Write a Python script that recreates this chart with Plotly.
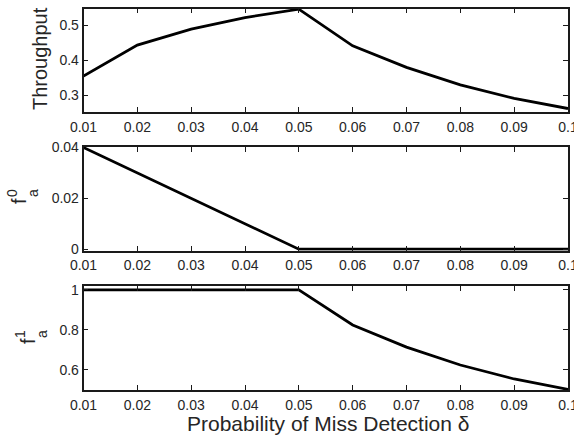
import plotly.graph_objects as go

delta = [0.01, 0.02, 0.03, 0.04, 0.05, 0.06, 0.07, 0.08, 0.09, 0.10]
throughput = [0.355, 0.444, 0.490, 0.523, 0.547, 0.442, 0.380, 0.330, 0.291, 0.262]
fa0 = [0.04, 0.03, 0.02, 0.01, 0.0, 0.0, 0.0, 0.0, 0.0, 0.0]
fa1 = [1.0, 1.0, 1.0, 1.0, 1.0, 0.825, 0.714, 0.625, 0.555, 0.503]

xtick_vals = delta
xtick_text = ["0.01", "0.02", "0.03", "0.04", "0.05", "0.06", "0.07", "0.08", "0.09", "0.1"]

W, H = 574, 438
FONT = "Liberation Sans, Arial, Helvetica, sans-serif"
TICKC = "#262626"

fig = go.Figure()
series = [throughput, fa0, fa1]
for i, ys in enumerate(series):
    fig.add_trace(go.Scatter(x=delta, y=ys, mode="lines",
                             line=dict(color="black", width=2.8),
                             xaxis="x" if i == 0 else f"x{i+1}",
                             yaxis="y" if i == 0 else f"y{i+1}",
                             cliponaxis=False, showlegend=False))

def px_x(x):
    return x / W

def px_y(y):
    return 1 - y / H

xdom = [px_x(83.5), px_x(568)]
ydoms = [[px_y(112), px_y(8.5)], [px_y(250.7), px_y(146.7)], [px_y(390), px_y(285.7)]]
yranges = [[0.252, 0.549], [-0.0006, 0.0403], [0.5, 1.021]]
yticks = [[0.3, 0.4, 0.5], [0, 0.02, 0.04], [0.6, 0.8, 1]]
yticktext = [["0.3", "0.4", "0.5"], ["0", "0.02", "0.04"], ["0.6", "0.8", "1"]]

axis_common = dict(showline=True, linecolor="#1a1a1a", linewidth=1.6, mirror="ticks",
                   ticks="inside", ticklen=5, tickwidth=1, tickcolor="#1a1a1a",
                   showgrid=False, zeroline=False, automargin=False,
                   ticklabeloverflow="allow",
                   tickfont=dict(family=FONT, size=14, color=TICKC))

layout = dict(width=W, height=H, margin=dict(l=0, r=0, t=0, b=0, autoexpand=False),
              plot_bgcolor="white", paper_bgcolor="white", showlegend=False)
for i in range(3):
    xn = "xaxis" if i == 0 else f"xaxis{i+1}"
    yn = "yaxis" if i == 0 else f"yaxis{i+1}"
    ya = "y" if i == 0 else f"y{i+1}"
    xa = "x" if i == 0 else f"x{i+1}"
    layout[xn] = dict(domain=xdom, anchor=ya, range=[0.01, 0.1000001],
                      tickvals=xtick_vals, ticktext=xtick_text,
                      ticklabelstandoff=1, **axis_common)
    layout[yn] = dict(domain=ydoms[i], anchor=xa, range=yranges[i],
                      tickvals=yticks[i], ticktext=yticktext[i], **axis_common)
fig.update_layout(**layout)

def ann(text, x, y, size, angle=-90):
    fig.add_annotation(text=text, x=px_x(x), y=px_y(y), xref="paper", yref="paper",
                       showarrow=False, textangle=angle, xanchor="center", yanchor="middle",
                       font=dict(family=FONT, size=size, color=TICKC))

ann("Throughput", 40, 59, 20)
# f_a^0
ann("f", 19, 201, 20)
ann("0", 12, 193, 14)
ann("a", 33, 193, 14)
# f_a^1
ann("f", 28, 341, 20)
ann("1", 20, 334, 14)
ann("a", 42, 334, 14)
ann("Probability of Miss Detection δ", 328, 423, 21, angle=0)

fig.write_html("out.html", config={"displayModeBar": False},
               post_script="document.body.style.margin='0';document.body.style.overflow='hidden';")
